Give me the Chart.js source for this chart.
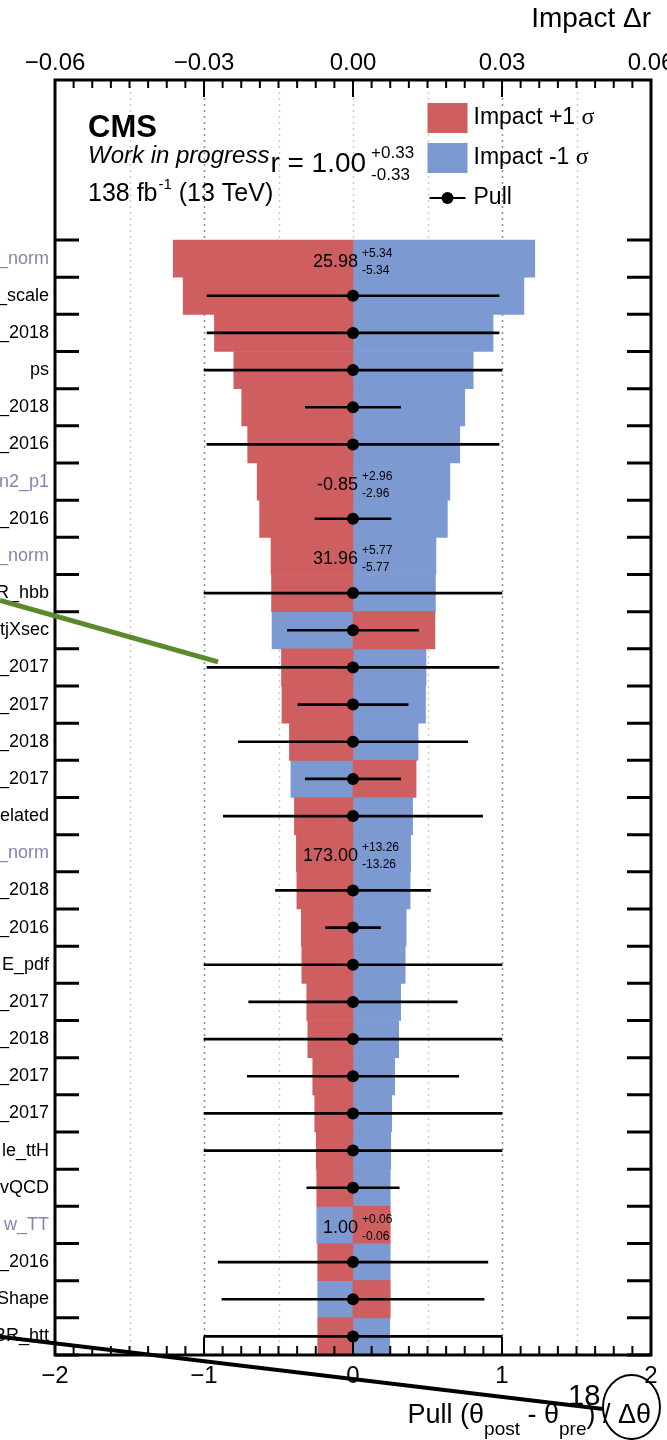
<!DOCTYPE html>
<html>
<head>
<meta charset="utf-8">
<script src="https://cdn.jsdelivr.net/npm/chart.js@4.4.1/dist/chart.umd.min.js"></script>
<style>
  html, body { margin: 0; padding: 0; background: #ffffff; overflow: hidden; }
  #wrap { width: 667px; height: 1440px; position: relative; }
  canvas { display: block; }
</style>
</head>
<body>
<div id="wrap"><canvas id="c" width="667" height="1440"></canvas></div>
<script>
// ---------------- data ----------------
const labels = ["_norm", "_scale", "_2018", "ps", "_2018", "_2016", "rn2_p1", "_2016", "_norm", "BR_hbb",
                "tjXsec", "_2017", "_2017", "_2018", "_2017", "elated", "_norm", "_2018", "_2016", "E_pdf",
                "_2017", "_2018", "_2017", "_2017", "le_ttH", "vQCD", "w_TT", "_2016", "Shape", "BR_htt"];
// Impact +1 sigma (red) and -1 sigma (blue), in units of r
const impactHi = [-0.0362, -0.0342, -0.0279, -0.0240, -0.0224, -0.0212, -0.0193, -0.0188, -0.0165, -0.0164,
                   0.0165, -0.0144, -0.0143, -0.0128,  0.0127, -0.0118, -0.0114, -0.0113, -0.0104, -0.0103,
                  -0.0093, -0.0091, -0.0081, -0.0077, -0.0074, -0.0073,  0.0075, -0.0071,  0.0075, -0.0071];
const impactLo = [ 0.0366,  0.0344,  0.0282,  0.0242,  0.0225,  0.0215,  0.0195,  0.0190,  0.0167,  0.0166,
                  -0.0163,  0.0147,  0.0146,  0.0131, -0.0125,  0.0120,  0.0116,  0.0115,  0.0107,  0.0105,
                   0.0096,  0.0092,  0.0084,  0.0078,  0.0076,  0.0075, -0.0073,  0.0075, -0.0071,  0.0074];
// Pulls (null for rate parameters)
const pullValue = [null, 0, 0, 0, 0, 0, null, 0, null, 0,
                   0, 0, 0, 0, 0, 0, null, 0, 0, 0,
                   0, 0, 0, 0, 0, 0, null, 0, 0, 0];
const pullError = [null, 0.98, 0.98, 1.00, 0.32, 0.98, null, 0.255, null, 1.00,
                   0.44, 0.98, 0.37, 0.77, 0.32, 0.87, null, 0.52, 0.185, 1.00,
                   0.70, 1.00, 0.71, 1.00, 1.00, 0.31, null, 0.905, 0.88, 1.00];
// Rate parameters: fitted value and uncertainties
const rateValue = ["25.98", null, null, null, null, null, "-0.85", null, "31.96", null,
                   null, null, null, null, null, null, "173.00", null, null, null,
                   null, null, null, null, null, null, "1.00", null, null, null];
const rateUp    = ["+5.34", null, null, null, null, null, "+2.96", null, "+5.77", null,
                   null, null, null, null, null, null, "+13.26", null, null, null,
                   null, null, null, null, null, null, "+0.06", null, null, null];
const rateDown  = ["-5.34", null, null, null, null, null, "-2.96", null, "-5.77", null,
                   null, null, null, null, null, null, "-13.26", null, null, null,
                   null, null, null, null, null, null, "-0.06", null, null, null];
const pullTicks = [-2, -1, 0, 1, 2];
const impactTicks = [-0.06, -0.03, 0.00, 0.03, 0.06];
const gridLines = [-1.5, -1, -0.5, 0, 0.5, 1, 1.5];
const poiText = { name: "r = 1.00", up: "+0.33", down: "-0.33" };

// ---------------- style ----------------
const SANS = "'Liberation Sans', Arial, Helvetica, sans-serif";
const SERIF = "'Liberation Serif', 'Times New Roman', serif";
const RED = '#CF5E61';
const BLUE = '#7D99D1';
const RATE_COLOR = '#8585b3';
const MINUS = '\u2212';

const rows = labels.map((_, i) => i + 0.5);

function setTicks(values) {
  return (scale) => { scale.ticks = values.map(v => ({ value: v })); };
}

const decor = {
  id: 'decor',
  beforeDatasetsDraw(chart) {
    const { ctx, chartArea: a, scales } = chart;
    const xs = scales.x;
    ctx.save();
    gridLines.forEach(v => {
      const px = Math.round(xs.getPixelForValue(v)) + 0.5;
      ctx.strokeStyle = Math.abs(v) === 1 ? '#8a8a8a' : '#c9c9c9';
      ctx.lineWidth = 1.5;
      ctx.setLineDash([2, 4]);
      ctx.beginPath(); ctx.moveTo(px, a.top); ctx.lineTo(px, a.bottom); ctx.stroke();
    });
    ctx.restore();
  },
  afterDatasetsDraw(chart) {
    const { ctx, chartArea: a, scales } = chart;
    const xs = scales.x, x2 = scales.x2, ys = scales.y;
    ctx.save();
    // closing box of the last pull row
    const last = labels.length - 1;
    if (pullError[last] !== null) {
      const yc = ys.getPixelForValue(rows[last]);
      ctx.strokeStyle = '#000'; ctx.lineWidth = 1.5;
      [pullValue[last] - pullError[last], pullValue[last] + pullError[last]].forEach(v => {
        const px = xs.getPixelForValue(v);
        ctx.beginPath(); ctx.moveTo(px, yc); ctx.lineTo(px, a.bottom); ctx.stroke();
      });
    }
    // rate parameter values
    const x0 = x2.getPixelForValue(0);
    ctx.fillStyle = '#000';
    rateValue.forEach((val, i) => {
      if (val === null) return;
      const yc = ys.getPixelForValue(rows[i]);
      ctx.font = `18px ${SANS}`;
      ctx.textAlign = 'right'; ctx.textBaseline = 'alphabetic';
      ctx.fillText(val, x0 + 5, yc + 8);
      ctx.font = `12px ${SANS}`;
      ctx.textAlign = 'left';
      ctx.fillText(rateUp[i], x0 + 9, yc - 2);
      ctx.fillText(rateDown[i], x0 + 9, yc + 15);
    });
    ctx.restore();
  },
  afterDraw(chart) {
    const { ctx, chartArea: a, scales } = chart;
    const xs = scales.x, x2 = scales.x2, ys = scales.y;
    ctx.save();
    ctx.strokeStyle = '#000';
    // frame
    ctx.lineWidth = 3;
    ctx.strokeRect(a.left, a.top, a.right - a.left, a.bottom - a.top);
    // y ticks at row boundaries, both sides
    for (let v = 0; v <= labels.length; v++) {
      const py = ys.getPixelForValue(v);
      ctx.beginPath();
      ctx.moveTo(a.left, py); ctx.lineTo(a.left + 24, py);
      ctx.moveTo(a.right, py); ctx.lineTo(a.right - 24, py);
      ctx.stroke();
    }
    // top (impact) ticks
    ctx.lineWidth = 2;
    const iMin = impactTicks[0], iMax = impactTicks[impactTicks.length - 1];
    const nTop = 32;
    for (let k = 0; k <= nTop; k++) {
      const v = iMin + (iMax - iMin) * k / nTop;
      const px = x2.getPixelForValue(v);
      const len = (k % 8 === 0) ? 17 : 8;
      ctx.beginPath(); ctx.moveTo(px, a.top); ctx.lineTo(px, a.top + len); ctx.stroke();
    }
    // bottom (pull) ticks
    const pMin = pullTicks[0], pMax = pullTicks[pullTicks.length - 1];
    const nBot = 32;
    for (let k = 0; k <= nBot; k++) {
      const v = pMin + (pMax - pMin) * k / nBot;
      const px = xs.getPixelForValue(v);
      const len = (k % 8 === 0) ? 18 : 9;
      ctx.beginPath(); ctx.moveTo(px, a.bottom); ctx.lineTo(px, a.bottom - len); ctx.stroke();
    }

    // CMS label block
    const tx = a.left + 33;
    ctx.fillStyle = '#000';
    ctx.textAlign = 'left'; ctx.textBaseline = 'alphabetic';
    ctx.font = `bold 31px ${SANS}`;
    ctx.fillText('CMS', tx, a.top + 57);
    ctx.font = `italic 24px ${SANS}`;
    const wip = 'Work in progress';
    ctx.fillText(wip, tx, a.top + 83);
    const wipW = ctx.measureText(wip).width;
    ctx.font = `28px ${SANS}`;
    const rx = tx + wipW + 1;
    ctx.fillText(poiText.name, rx, a.top + 92);
    const rW = ctx.measureText(poiText.name).width;
    ctx.font = `17px ${SANS}`;
    ctx.fillText(poiText.up, rx + rW + 5, a.top + 78);
    ctx.fillText(poiText.down, rx + rW + 5, a.top + 100);
    ctx.font = `25px ${SANS}`;
    ctx.fillText('138 fb', tx, a.top + 121);
    const w = ctx.measureText('138 fb').width;
    ctx.font = `15px ${SANS}`;
    ctx.fillText('-1', tx + w + 1, a.top + 109);
    const w2 = ctx.measureText('-1').width;
    ctx.font = `25px ${SANS}`;
    ctx.fillText(' (13 TeV)', tx + w + w2 + 1, a.top + 121);

    // legend
    const lx = x2.getPixelForValue(0.015);
    ctx.fillStyle = RED; ctx.fillRect(lx, a.top + 23, 40, 30);
    ctx.fillStyle = BLUE; ctx.fillRect(lx, a.top + 63, 40, 30);
    ctx.strokeStyle = '#000'; ctx.lineWidth = 2;
    ctx.beginPath(); ctx.moveTo(lx + 2, a.top + 118); ctx.lineTo(lx + 38, a.top + 118); ctx.stroke();
    ctx.fillStyle = '#000';
    ctx.beginPath(); ctx.arc(lx + 20, a.top + 118, 6, 0, Math.PI * 2); ctx.fill();
    ctx.textBaseline = 'middle';
    const legText = [['Impact +1 ', a.top + 38], ['Impact -1 ', a.top + 78]];
    legText.forEach(([t, y]) => {
      ctx.font = `23px ${SANS}`;
      ctx.fillText(t, lx + 46, y);
      const tw = ctx.measureText(t).width;
      ctx.font = `24px ${SERIF}`;
      ctx.fillText('\u03c3', lx + 46 + tw, y);
    });
    ctx.font = `23px ${SANS}`;
    ctx.fillText('Pull', lx + 46, a.top + 118);

    // x axis title (pull)
    ctx.textBaseline = 'alphabetic';
    const parts = [['Pull (\u03b8', 27, 0], ['post', 19, 12], [' - \u03b8', 27, 0], ['pre', 19, 12], [') / \u0394\u03b8', 27, 0]];
    let total = 0;
    parts.forEach(p => { ctx.font = `${p[1]}px ${SANS}`; total += ctx.measureText(p[0]).width; });
    let cx = a.right - total;
    parts.forEach(p => {
      ctx.font = `${p[1]}px ${SANS}`;
      ctx.fillText(p[0], cx, a.bottom + 68 + p[2]);
      cx += ctx.measureText(p[0]).width;
    });

    // hand-drawn annotations on the picture
    ctx.strokeStyle = '#5b8a2d'; ctx.lineWidth = 5; ctx.lineCap = 'butt';
    ctx.beginPath();
    ctx.moveTo(0, ys.getPixelForValue(9.7));
    ctx.lineTo(xs.getPixelForValue(-0.906), ys.getPixelForValue(11.35));
    ctx.stroke();
    ctx.strokeStyle = '#000'; ctx.lineWidth = 4;
    ctx.beginPath();
    ctx.moveTo(0, ys.getPixelForValue(29.51));
    ctx.lineTo(xs.getPixelForValue(1.678), ys.getPixelForValue(31.45));
    ctx.stroke();
    ctx.lineWidth = 2;
    ctx.beginPath();
    ctx.ellipse(xs.getPixelForValue(1.869), ys.getPixelForValue(31.40), 28.5, 32, 0, 0, Math.PI * 2);
    ctx.stroke();
    ctx.font = `29px ${SANS}`;
    ctx.fillText('18', xs.getPixelForValue(1.443), ys.getPixelForValue(31.34));
    ctx.restore();
  }
};

const ctx = document.getElementById('c').getContext('2d');
new Chart(ctx, {
  type: 'bar',
  data: {
    datasets: [
      {
        label: 'Impact +1\u03c3', type: 'bar', indexAxis: 'y', xAxisID: 'x2', yAxisID: 'y',
        data: rows.map((y, i) => ({ y, x: [0, impactHi[i]] })),
        backgroundColor: RED, borderWidth: 0, grouped: false,
        barPercentage: 1, categoryPercentage: 1, order: 3
      },
      {
        label: 'Impact -1\u03c3', type: 'bar', indexAxis: 'y', xAxisID: 'x2', yAxisID: 'y',
        data: rows.map((y, i) => ({ y, x: [0, impactLo[i]] })),
        backgroundColor: BLUE, borderWidth: 0, grouped: false,
        barPercentage: 1, categoryPercentage: 1, order: 3
      },
      {
        label: 'Pull error', type: 'bar', indexAxis: 'y', xAxisID: 'x', yAxisID: 'y',
        data: rows.map((y, i) => pullError[i] === null ? null : ({ y, x: [pullValue[i] - pullError[i], pullValue[i] + pullError[i]] })).filter(d => d),
        backgroundColor: '#000', borderWidth: 0, grouped: false, barThickness: 2, order: 2
      },
      {
        label: 'Pull', type: 'scatter', xAxisID: 'x', yAxisID: 'y',
        data: rows.map((y, i) => pullValue[i] === null ? null : ({ x: pullValue[i], y })).filter(d => d),
        backgroundColor: '#000', borderWidth: 0, pointRadius: 6, order: 1
      }
    ]
  },
  options: {
    indexAxis: 'y',
    responsive: false,
    animation: false,
    devicePixelRatio: 1,
    layout: { padding: { left: 0, right: 16, top: 0, bottom: 0 } },
    plugins: { legend: { display: false }, tooltip: { enabled: false } },
    scales: {
      x: {
        type: 'linear', position: 'bottom', min: pullTicks[0], max: pullTicks[pullTicks.length - 1],
        afterBuildTicks: setTicks(pullTicks),
        ticks: {
          callback: (v) => (v < 0 ? MINUS + Math.abs(v) : String(v)),
          font: { family: SANS, size: 24 }, color: '#000', padding: 7, maxRotation: 0, autoSkip: false
        },
        grid: { display: false, drawTicks: false }, border: { display: false },
        afterFit: (s) => { s.height = 85; s.paddingLeft = 0; s.paddingRight = 0; }
      },
      x2: {
        type: 'linear', position: 'top', min: impactTicks[0], max: impactTicks[impactTicks.length - 1],
        afterBuildTicks: setTicks(impactTicks),
        ticks: {
          callback: (v) => (v < 0 ? MINUS : '') + Math.abs(v).toFixed(2),
          font: { family: SANS, size: 24 }, color: '#000', padding: 2, maxRotation: 0, autoSkip: false
        },
        title: { display: true, text: 'Impact \u0394r', align: 'end', font: { family: SANS, size: 28 }, color: '#000', padding: { top: 2, bottom: 0 } },
        grid: { display: false, drawTicks: false }, border: { display: false },
        afterFit: (s) => { s.height = 80; s.paddingLeft = 0; s.paddingRight = 0; }
      },
      y: {
        type: 'linear', position: 'left', reverse: true, offset: false, min: -4.305, max: labels.length,
        afterBuildTicks: setTicks(rows),
        ticks: {
          callback: (v) => labels[Math.floor(v)],
          font: { family: SANS, size: 18 },
          color: (c) => (rateValue[Math.floor(c.tick.value)] !== null ? RATE_COLOR : '#000'),
          padding: 6, autoSkip: false
        },
        grid: { display: false, drawTicks: false, offset: false }, border: { display: false },
        afterFit: (s) => { s.width = 55; s.paddingTop = 0; s.paddingBottom = 0; }
      }
    }
  },
  plugins: [decor]
});
</script>
</body>
</html>
